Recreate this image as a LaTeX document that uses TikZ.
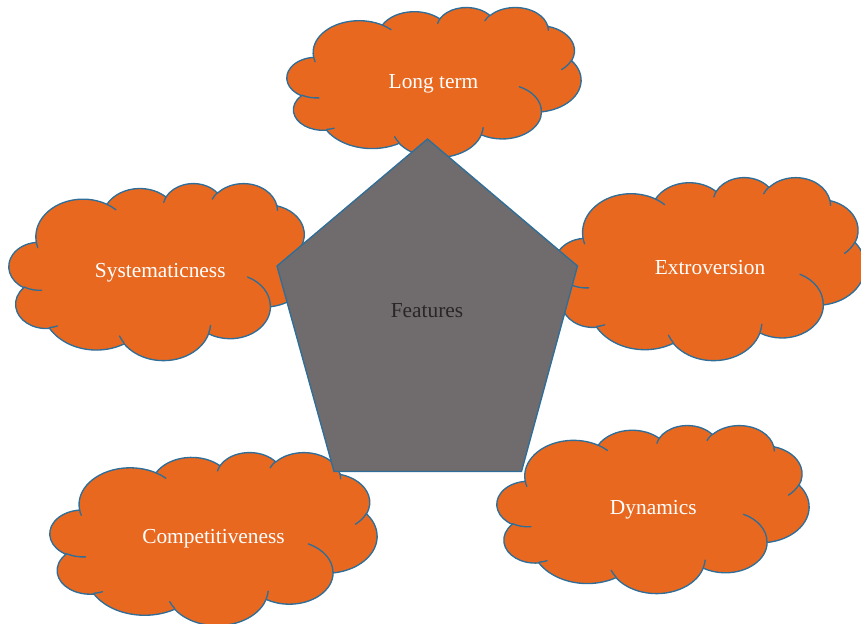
\documentclass[tikz,border=0pt]{standalone}
\usepackage{fontspec}
\setmainfont{Liberation Serif}

\definecolor{cloudfill}{HTML}{E86820}
\definecolor{cloudline}{HTML}{2E6E98}
\definecolor{pentfill}{HTML}{706B6C}
\definecolor{featuretext}{HTML}{2A2526}

\tikzset{
  cloudbody/.style={fill=cloudfill, draw=cloudline, line width=0.95pt, line join=round},
  cloudedge/.style={draw=cloudline, line width=0.95pt, line cap=round},
  pentbody/.style={fill=pentfill, draw=cloudline, line width=0.95pt, line join=miter},
  cloudlabel/.style={text=white, font=\fontsize{15.2}{18}\selectfont, anchor=base, inner sep=0pt},
  centrelabel/.style={text=featuretext, font=\fontsize{15.2}{18}\selectfont, anchor=base, inner sep=0pt},
}

% A cloud outline on a 43.2 x 43.2 grid (y downward), scaled into the
% box with top-left corner (#1,#2), width #3 and height #4.
% Arc angles are given as polar angles and turned into ellipse parameters.
\newcommand\cloudat[4]{%
  \begin{scope}[shift={(#1,#2)}, xscale=#3/43.2, yscale=#4/43.2]
    \filldraw[cloudbody] (3.900,14.370)
      \foreach \w/\h/\s/\d [evaluate=\s as \ps using {atan2(\w*sin(\s),\h*cos(\s))},
                            evaluate=\s as \pe using {atan2(\w*sin(\s+\d),\h*cos(\s+\d))},
                            evaluate=\s as \dp using {mod(\pe-\ps+720,360)}] in
        {6.753/9.190/-190.4875/123.7805,
         5.333/7.267/-144.1024/89.9452,
         4.365/5.945/-145.8079/99.7230,
         4.857/6.595/-130.9861/117.2417,
         5.333/7.273/-78.7089/109.0269,
         6.775/9.220/-46.2673/130.2690,
         5.785/7.867/0.6250/114.0333,
         6.752/9.215/22.4516/115.1726,
         7.720/10.543/66.2426/75.7110,
         4.360/5.918/-274.9421/146.7356,
         4.345/5.945/-246.8285/152.5189}
      { arc[start angle=\ps, delta angle=\dp, x radius=\w, y radius=\h] } -- cycle;
    \draw[cloudedge]
      \foreach \x/\y/\w/\h/\s/\d [evaluate=\s as \ps using {atan2(\w*sin(\s),\h*cos(\s))},
                                  evaluate=\s as \pe using {atan2(\w*sin(\s+\d),\h*cos(\s+\d))},
                                  evaluate=\s as \dp using {mod(\pe-\ps+720,360)}] in
        {4.693/26.177/4.345/5.945/86.7420/26.4295,
         6.928/34.899/4.360/5.918/73.6105/11.4475,
         16.478/39.090/6.752/9.215/137.6242/14.0811,
         28.827/34.751/6.752/9.215/6.4533/15.9984,
         34.129/22.954/5.785/7.867/-70.2924/70.9174,
         41.798/15.354/5.333/7.273/30.3180/27.7515,
         38.324/5.426/4.857/6.595/-13.7443/14.8589,
         29.078/3.952/4.857/6.595/-149.1815/18.1954,
         22.141/4.720/4.365/5.945/-163.4943/17.6864,
         14.000/5.192/6.753/9.190/-66.7070/12.3194,
         4.127/15.789/6.753/9.190/157.6544/11.8582}
      { (\x,\y) arc[start angle=\ps, delta angle=\dp, x radius=\w, y radius=\h] };
  \end{scope}}

\begin{document}
\begin{tikzpicture}[x=0.025cm, y=-0.025cm]
  \useasboundingbox (0,0) rectangle (861,624);
  \clip (0,0) rectangle (861,624);

  % the five clouds
  \cloudat{287}{7}{294}{150}
  \cloudat{9}{183}{302}{177}
  \cloudat{555}{177}{310}{183}
  \cloudat{50}{452}{327}{173}
  \cloudat{497}{425}{312}{168}

  \node[cloudlabel] (longterm) at (433.5,89) {Long term};
  \node[cloudlabel] (system) at (160.3,277) {Systematicness};
  \node[cloudlabel] (extro) at (710,274) {Extroversion};
  \node[cloudlabel] (compet) at (213.5,543.3) {Competitiveness};
  \node[cloudlabel] (dynam) at (653.3,514) {Dynamics};

  % central pentagon
  \coordinate (ptop) at (427.5,139);
  \coordinate (pright) at (577.5,266);
  \coordinate (pbr) at (521.5,471.5);
  \coordinate (pbl) at (334,471.5);
  \coordinate (pleft) at (277,266);
  \filldraw[pentbody] (ptop) -- (pright) -- (pbr) -- (pbl) -- (pleft) -- cycle;
  \node[centrelabel] (features) at (427,317.3) {Features};
\end{tikzpicture}
\end{document}
